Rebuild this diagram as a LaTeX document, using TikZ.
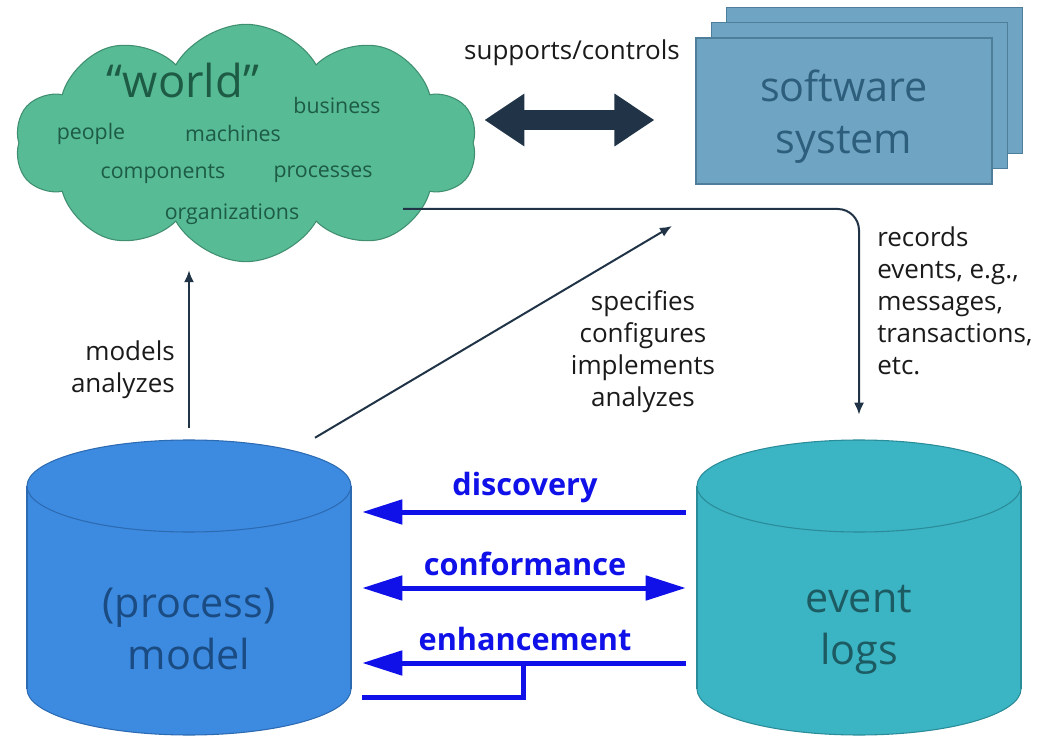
\documentclass[tikz,border=0pt]{standalone}
\usepackage{fontspec}
\setmainfont{Open Sans}
\usetikzlibrary{shapes.symbols,arrows.meta,calc}

\definecolor{cloudfill}{HTML}{57BB95}
\definecolor{cloudline}{HTML}{3F8F70}
\definecolor{clouddark}{HTML}{1D5B45}
\definecolor{sysfill}{HTML}{6FA5C2}
\definecolor{sysline}{HTML}{4D7F9A}
\definecolor{systext}{HTML}{2D5F7C}
\definecolor{modelfill}{HTML}{3D8BE0}
\definecolor{modelline}{HTML}{2C6AB2}
\definecolor{modeltext}{HTML}{1A4B82}
\definecolor{logsfill}{HTML}{3BB4C4}
\definecolor{logsline}{HTML}{2A8C98}
\definecolor{logstext}{HTML}{1D5B63}
\definecolor{navy}{HTML}{213447}
\definecolor{pmblue}{HTML}{1010E8}
\definecolor{labeltext}{HTML}{1A1A1A}

\begin{document}
\begin{tikzpicture}[x=0.75pt,y=-0.75pt,
  lbl/.style={font=\fontsize{19.5}{24}\selectfont, text=labeltext, inner sep=0pt},
  wword/.style={font=\fontsize{16}{19}\selectfont, text=clouddark, inner sep=0pt},
  bigtext/.style={font=\fontsize{31}{39}\selectfont, align=center, inner sep=0pt},
  sysbox/.style={fill=sysfill, draw=sysline, line width=.8pt, minimum width=222pt, minimum height=109.5pt},
  darr/.style={draw=navy, line width=1.5pt, -{Latex[length=9pt,width=7.5pt]}},
  barr/.style={draw=pmblue, line width=3.75pt},
  btip/.style={-{Triangle[length=30pt,width=18pt]}},
  blbl/.style={font=\bfseries\fontsize{23}{27}\selectfont, text=pmblue, inner sep=0pt}]
\useasboundingbox (0,0) rectangle (1049,737);

% the world
\node[cloud, cloud puffs=10, cloud puff arc=120, aspect=2, fill=cloudfill, draw=cloudline, line width=.8pt,
  minimum width=346pt, minimum height=178pt] (world) at (246,143) {};
\node[font=\fontsize{34}{40}\selectfont, text=clouddark, inner sep=0pt] (wtitle) at (183,81) {“world”};
\node[wword] (wbus) at (337,106) {business};
\node[wword] (wpeo) at (91,134) {people};
\node[wword] (wmac) at (233,134) {machines};
\node[wword] (wcom) at (163,174) {components};
\node[wword] (wpro) at (323,174) {processes};
\node[wword] (worg) at (232,214) {organizations};

% software system (stack of three)
\node[sysbox] (sys3) at (874.5,80.5) {};
\node[sysbox] (sys2) at (859.5,95.5) {};
\node[sysbox] (software) at (844,111) {};
\node[bigtext, text=systext] (systxt) at (844,117) {software\\system};

\coordinate (ctrlmid) at (572,120);
\draw[navy, line width=15pt, shorten <=8pt, shorten >=30.75pt,
  {Triangle[length=30pt,width=37.5pt]}-{Triangle[length=30pt,width=37.5pt]}]
  (world.east |- ctrlmid) -- (software.west |- ctrlmid);
\node[lbl] (supp) at (572,53) {supports/controls};

% the two cylinders
\foreach \cx/\fc/\lc in {189/modelfill/modelline, 859/logsfill/logsline} {
  \filldraw[fill=\fc, draw=\lc, line width=.8pt] (\cx,689) ellipse [x radius=121.5pt, y radius=34.5pt];
  \fill[\fc] (\cx-162,486) rectangle (\cx+162,689);
  \draw[\lc, line width=.8pt] (\cx-162,486) -- (\cx-162,689) (\cx+162,486) -- (\cx+162,689);
  \filldraw[fill=\fc, draw=\lc, line width=.8pt] (\cx,486) ellipse [x radius=121.5pt, y radius=34.5pt];
}
\node[minimum width=243pt, minimum height=221.25pt, inner sep=0pt] (model) at (189,587.5) {};
\node[minimum width=243pt, minimum height=221.25pt, inner sep=0pt] (logs) at (859,587.5) {};
\node[bigtext, text=modeltext] (modeltxt) at (189,629) {(process)\\model};
\node[bigtext, text=logstext] (logstxt) at (859,630) {event\\logs};

% thin arrows
\draw[darr, shorten <=9pt, shorten >=6pt] (model.north) -- (model.north |- world.south);
\node[lbl, anchor=east, align=right] (modlbl) at (175,370) {models\\analyzes};

\coordinate (specend) at (672,226);
\draw[darr] ($(model.north)+(126,-2)$) -- (specend);
\node[lbl, align=center] (speclbl) at (643,352) {specifies\\configures\\implements\\analyzes};

\coordinate (recstart) at (403,209);
\draw[darr, rounded corners=16pt, shorten >=18.75pt] (recstart) -| (logs.north);
\node[lbl, anchor=west, align=left] (reclbl) at (877,301) {records\\events, e.g.,\\messages,\\transactions,\\etc.};

% process mining
\coordinate (dis) at (525,512);
\coordinate (con) at (525,588);
\coordinate (enh) at (525,663);
\coordinate (enhb) at (523,697);
\draw[barr, btip, shorten <=8.25pt, shorten >=8.25pt] (dis -| logs.west) -- (dis -| model.east);
\draw[barr, shorten <=8.25pt, shorten >=8.25pt, {Triangle[length=30pt,width=18pt]}-{Triangle[length=30pt,width=18pt]}]
  (con -| model.east) -- (con -| logs.west);
\draw[barr, btip, shorten <=8.25pt, shorten >=8.25pt] (enh -| logs.west) -- (enh -| model.east);
\draw[barr, shorten >=8.25pt] (enhb |- enh) |- (enhb -| model.east);
\node[blbl] (dislbl) at (525,488) {discovery};
\node[blbl] (conlbl) at (525,564) {conformance};
\node[blbl] (enhlbl) at (525,639) {enhancement};
\end{tikzpicture}
\end{document}
